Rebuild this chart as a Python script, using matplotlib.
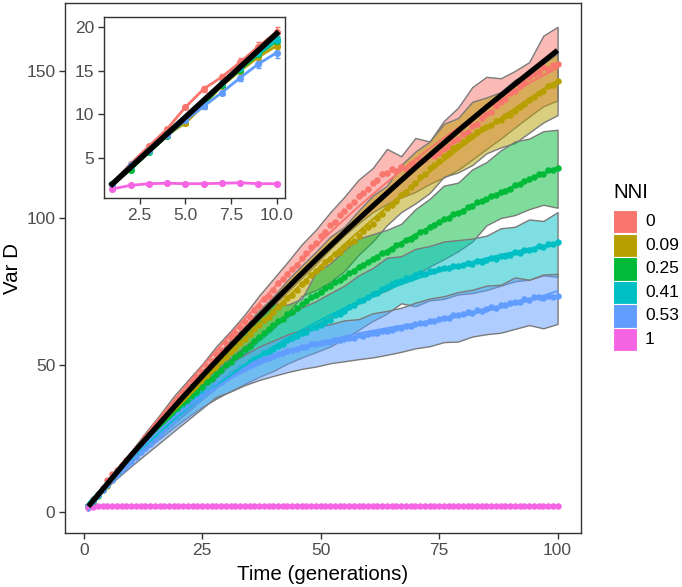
import numpy as np
import matplotlib
matplotlib.use("Agg")
import matplotlib.pyplot as plt
from matplotlib.patches import Rectangle
from matplotlib.colors import to_rgba

plt.rcParams['font.family'] = ['Liberation Sans', 'DejaVu Sans']

# ---------------- data ----------------
gens = list(range(1, 101))
nni_levels = ["0", "0.09", "0.25", "0.41", "0.53", "1"]
colors = ["#F8766D", "#B79F00", "#00BA38", "#00BFC4", "#619CFF", "#F564E3"]

mean_0 = [2.0, 4.3, 6.3, 8.3, 10.8, 12.9, 14.3, 16.0, 17.8, 19.5,
          21.5, 23.3, 25.4, 27.4, 29.5, 31.2, 33.4, 35.0, 37.1, 38.8,
          40.9, 42.4, 44.6, 45.8, 47.5, 49.8, 51.4, 53.6, 55.2, 57.5,
          59.4, 60.8, 63.1, 64.5, 66.5, 68.6, 70.1, 72.4, 73.6, 75.5,
          77.8, 79.2, 80.9, 82.8, 84.0, 86.4, 88.1, 90.3, 91.6, 94.0,
          95.2, 97.5, 98.6, 101.0, 102.5, 104.1, 105.3, 107.6, 108.4, 110.0,
          111.8, 113.0, 114.9, 115.4, 116.5, 116.0, 117.3, 116.8, 118.2, 118.5,
          119.6, 120.1, 121.4, 121.0, 122.0, 123.6, 124.5, 126.1, 127.0, 128.5,
          129.4, 131.2, 132.0, 134.1, 135.5, 136.2, 138.0, 139.4, 140.3, 142.5,
          143.1, 145.0, 146.2, 147.8, 149.0, 149.6, 151.3, 150.8, 152.0, 152.5]

mean_009 = [2.0, 4.1, 5.9, 7.6, 9.0, 11.0, 13.3, 15.0, 16.6, 17.9,
            19.9, 22.0, 23.7, 25.8, 27.5, 29.6, 31.1, 33.2, 34.6, 36.5,
            38.4, 39.9, 41.8, 43.1, 45.0, 46.3, 48.2, 49.4, 51.3, 52.8,
            54.6, 55.8, 57.6, 58.9, 60.5, 62.3, 63.5, 65.2, 66.4, 68.0,
            69.8, 71.0, 72.9, 73.8, 75.5, 77.4, 78.6, 80.7, 81.9, 83.5,
            85.1, 86.0, 87.9, 88.6, 90.0, 91.4, 92.3, 94.0, 95.6, 97.0,
            98.1, 100.0, 101.2, 103.3, 104.5, 105.9, 107.8, 109.0, 110.6, 112.0,
            113.8, 114.9, 116.9, 118.0, 119.5, 121.2, 122.0, 123.8, 124.6, 126.0,
            127.3, 128.0, 129.4, 130.1, 131.0, 131.6, 132.9, 133.4, 134.8, 135.0,
            136.3, 137.9, 138.6, 140.2, 141.0, 142.4, 143.1, 144.8, 145.3, 146.5]

mean_025 = [2.0, 3.6, 5.6, 7.5, 9.3, 11.1, 13.4, 15.1, 16.9, 18.4,
            20.1, 21.5, 23.4, 24.8, 26.5, 28.3, 29.7, 31.6, 32.9, 34.5,
            36.3, 37.6, 39.5, 40.8, 42.5, 44.1, 45.3, 47.0, 48.4, 50.0,
            51.1, 52.7, 53.8, 55.4, 56.5, 58.2, 59.4, 61.0, 62.1, 63.5,
            64.9, 65.8, 67.3, 68.1, 69.5, 70.8, 71.7, 73.2, 73.9, 75.0,
            76.3, 77.0, 78.4, 78.9, 80.0, 81.2, 82.0, 83.3, 84.1, 85.0,
            86.2, 86.8, 88.1, 88.6, 89.5, 90.7, 91.3, 92.6, 93.0, 94.0,
            95.2, 95.7, 97.1, 97.5, 98.5, 99.6, 100.1, 101.4, 101.8, 102.5,
            103.7, 104.1, 105.3, 105.8, 106.5, 107.6, 107.9, 109.0, 109.3, 110.0,
            111.2, 111.6, 112.7, 113.2, 114.0, 114.8, 115.1, 116.2, 116.3, 117.0]

mean_041 = [2.0, 4.0, 5.8, 7.7, 9.4, 11.3, 13.6, 15.3, 17.0, 18.6,
            20.2, 21.6, 23.1, 24.7, 26.0, 27.6, 29.0, 30.7, 31.9, 33.5,
            34.9, 36.0, 37.6, 38.7, 40.0, 41.3, 42.1, 43.6, 44.3, 45.5,
            46.8, 47.7, 49.0, 49.8, 51.0, 52.0, 52.7, 54.1, 54.6, 55.5,
            56.6, 57.2, 58.5, 59.1, 60.0, 60.9, 61.4, 62.6, 62.9, 63.5,
            64.7, 65.4, 66.9, 67.5, 68.5, 69.8, 70.4, 71.9, 72.2, 73.0,
            74.1, 74.6, 76.0, 76.4, 77.5, 78.3, 78.5, 79.6, 79.7, 80.5,
            81.2, 81.1, 82.0, 81.9, 82.5, 83.1, 82.9, 83.8, 83.6, 84.0,
            84.6, 84.4, 85.3, 85.1, 85.7, 86.4, 86.2, 87.2, 87.0, 87.5,
            88.3, 88.2, 89.1, 89.0, 89.5, 90.4, 90.3, 91.2, 91.0, 91.7]

mean_053 = [2.0, 4.2, 5.9, 7.6, 9.3, 10.9, 12.5, 14.2, 15.8, 17.1,
            18.8, 20.3, 21.9, 23.2, 25.0, 26.7, 28.1, 29.9, 31.2, 33.0,
            34.4, 35.6, 37.1, 38.2, 39.5, 40.9, 42.0, 43.5, 44.3, 45.5,
            46.6, 47.3, 48.5, 49.0, 50.0, 50.8, 51.3, 52.2, 52.4, 53.0,
            53.7, 54.0, 54.8, 55.0, 55.5, 56.2, 56.3, 57.1, 57.0, 57.5,
            57.9, 57.8, 58.5, 58.4, 58.7, 59.3, 59.2, 60.1, 60.0, 60.5,
            61.0, 60.8, 61.7, 61.6, 62.0, 62.6, 62.5, 63.4, 63.3, 64.0,
            64.4, 64.2, 65.1, 64.9, 65.5, 66.1, 66.0, 67.0, 66.9, 67.5,
            67.9, 67.8, 68.6, 68.5, 69.0, 69.6, 69.5, 70.4, 70.3, 71.0,
            71.5, 71.4, 72.3, 72.2, 73.0, 73.2, 72.9, 73.6, 73.3, 73.5]

mean_1 = [1.4, 1.8, 2.0, 2.05, 2.0, 2.0, 2.05, 2.1, 2.0, 2.0,
          1.98, 2.02, 2.0, 1.97, 2.03, 2.0, 1.99, 2.02, 2.0, 1.98,
          2.01, 2.0, 1.97, 2.02, 2.0, 2.03, 1.99, 2.0, 1.98, 2.01,
          2.0, 2.02, 1.98, 2.0, 2.01, 1.97, 2.0, 2.03, 1.99, 2.0,
          2.02, 1.98, 2.0, 2.01, 1.99, 2.0, 2.02, 1.98, 2.0, 2.01,
          1.99, 2.0, 2.03, 1.98, 2.0, 2.01, 1.99, 2.02, 2.0, 1.98,
          2.0, 2.01, 1.99, 2.0, 2.02, 1.98, 2.0, 2.01, 1.99, 2.0,
          2.02, 1.99, 2.0, 2.01, 1.98, 2.0, 2.02, 2.0, 1.99, 2.01,
          2.0, 1.98, 2.03, 2.0, 1.99, 2.01, 2.0, 1.98, 2.02, 2.0,
          1.99, 2.01, 2.0, 1.98, 2.02, 2.0, 1.99, 2.01, 2.0, 1.99]

# ribbon bounds, read every 3 generations
ribbon_gens = list(range(1, 101, 3))
lo_0 = [1.8, 7.8, 13.5, 18.4, 23.9, 29.3, 34.8, 39.8, 44.5, 50.1, 55.4, 60.0, 65.2, 70.1, 74.9, 79.6, 84.3,
        89.4, 94.1, 98.2, 102.0, 104.8, 107.0, 108.9, 111.6, 113.8, 116.4, 119.9, 123.5, 127.0, 130.8, 134.5, 138.0, 140.0]
hi_0 = [2.2, 8.8, 15.1, 20.6, 27.0, 33.0, 39.4, 44.9, 50.3, 56.4, 61.6, 67.2, 73.6, 79.3, 85.0, 91.0, 96.0,
        101.9, 107.2, 113.0, 117.0, 123.5, 121.0, 127.2, 126.0, 133.0, 137.5, 144.5, 148.0, 147.5, 150.0, 153.0, 162.0, 165.0]
lo_009 = [1.8, 7.0, 12.5, 16.8, 22.1, 27.6, 32.3, 37.0, 41.8, 45.6, 50.3, 54.0, 58.3, 62.4, 67.5, 73.5, 75.5,
          78.2, 82.0, 87.5, 92.0, 97.6, 102.0, 105.0, 108.5, 114.0, 115.5, 118.0, 122.0, 124.0, 125.5, 129.0, 132.5, 135.0]
hi_009 = [2.2, 8.2, 14.2, 19.1, 25.4, 31.6, 37.0, 42.8, 48.0, 53.0, 58.6, 63.2, 68.6, 73.3, 78.9, 83.8, 88.5,
          93.6, 97.0, 102.5, 107.6, 111.0, 118.0, 122.6, 126.0, 132.0, 134.0, 139.5, 141.0, 142.8, 147.0, 149.0, 152.5, 156.0]
lo_025 = [1.8, 6.9, 12.4, 17.1, 21.6, 26.0, 30.1, 34.2, 38.4, 42.4, 45.8, 49.3, 52.5, 55.8, 58.6, 61.4, 63.8,
          66.2, 68.4, 71.0, 73.5, 75.4, 78.0, 80.6, 83.5, 86.0, 88.7, 92.0, 97.5, 100.0, 101.0, 103.0, 104.5, 103.5]
hi_025 = [2.2, 8.1, 14.4, 19.7, 25.2, 30.6, 35.8, 41.2, 46.7, 51.5, 56.3, 61.5, 66.0, 71.0, 70.5, 72.5, 81.5,
          84.5, 89.0, 93.0, 94.5, 96.0, 98.0, 103.0, 106.5, 111.0, 112.0, 116.5, 119.0, 123.0, 126.0, 127.0, 129.5, 130.0]
lo_041 = [1.8, 7.1, 12.6, 17.2, 21.2, 25.0, 28.8, 32.4, 35.8, 38.6, 41.2, 43.6, 46.0, 48.0, 50.5, 52.6, 54.4,
          56.3, 59.0, 62.0, 65.0, 67.5, 71.0, 70.0, 72.0, 72.5, 74.0, 74.5, 75.5, 77.0, 78.5, 79.0, 80.5, 80.0]
hi_041 = [2.2, 8.3, 14.6, 20.0, 25.0, 30.2, 35.0, 39.6, 44.2, 48.6, 52.5, 56.4, 60.0, 63.0, 66.5, 69.6, 71.7,
          74.4, 77.0, 80.5, 83.0, 86.5, 87.0, 89.5, 90.5, 92.0, 92.5, 93.0, 94.0, 96.5, 97.0, 99.5, 99.0, 102.0]
lo_053 = [1.8, 7.0, 11.5, 15.6, 19.6, 23.5, 27.5, 31.4, 35.3, 39.2, 41.0, 43.2, 44.9, 46.3, 47.6, 48.7, 49.5,
          50.6, 51.3, 52.0, 52.6, 53.5, 54.5, 55.7, 56.4, 57.8, 58.0, 59.7, 60.5, 61.0, 62.3, 63.6, 62.5, 64.0]
hi_053 = [2.2, 8.2, 13.6, 18.6, 23.9, 29.2, 34.1, 38.9, 43.2, 46.2, 51.0, 53.6, 56.3, 58.3, 60.4, 62.0, 63.0,
          63.9, 65.2, 65.6, 67.6, 68.4, 69.5, 71.2, 72.6, 73.4, 74.8, 75.6, 77.0, 77.3, 79.8, 79.0, 80.8, 81.0]

# expected variance (black curve)
theory_gens = [1, 5, 10, 15, 20, 25, 30, 35, 40, 45, 50, 55, 60, 65, 70, 75, 80, 85, 90, 95, 100]
theory_var = [1.95, 9.66, 19.3, 28.3, 37.4, 46.2, 54.8, 63.2, 71.4, 79.5, 87.4, 95.1, 102.6, 109.9,
              117.1, 124.1, 131.0, 137.7, 144.2, 150.6, 157.0]

# standard errors for the first 10 generations (inset)
se_0 = [0.05, 0.1, 0.15, 0.2, 0.25, 0.3, 0.35, 0.45, 0.5, 0.6]
se_009 = [0.05, 0.08, 0.12, 0.16, 0.2, 0.24, 0.28, 0.32, 0.36, 0.4]
se_025 = [0.05, 0.08, 0.12, 0.15, 0.19, 0.23, 0.27, 0.31, 0.35, 0.4]
se_041 = [0.05, 0.08, 0.12, 0.16, 0.2, 0.24, 0.28, 0.32, 0.36, 0.42]
se_053 = [0.05, 0.1, 0.14, 0.18, 0.23, 0.28, 0.33, 0.4, 0.48, 0.6]
se_1 = [0.03, 0.03, 0.03, 0.03, 0.03, 0.03, 0.03, 0.03, 0.03, 0.03]

means = [mean_0, mean_009, mean_025, mean_041, mean_053, mean_1]
los = [lo_0, lo_009, lo_025, lo_041, lo_053]
his = [hi_0, hi_009, hi_025, hi_041, hi_053]
ses = [se_0, se_009, se_025, se_041, se_053, se_1]

# ---------------- figure ----------------
W, H = 682, 587
fig = plt.figure(figsize=(W / 100, H / 100), dpi=100)
fig.patch.set_facecolor("white")


def fx(px):
    return px / W


def fy(py):
    return 1 - py / H


grey20 = "#333333"
grey30 = "#4D4D4D"

ax = fig.add_axes([fx(65), fy(533), fx(581) - fx(65), fy(3) - fy(533)])
x = np.array(gens, dtype=float)

for i in range(5):
    ax.fill_between(ribbon_gens, los[i], his[i], facecolor=to_rgba(colors[i], 0.5),
                    edgecolor="#7A7A7A", linewidth=1.0, zorder=1 + i * 0.01)

for i in range(6):
    y = np.array(means[i])
    ax.scatter(x, y, s=22, color=colors[i], linewidths=0, zorder=3)
    if i < 5:
        coef = np.polyfit(x, y, 3)
        ax.plot(x, np.polyval(coef, x), color=colors[i], lw=1.4, zorder=3.5)
    else:
        ax.plot(x, y, color=colors[i], lw=1.4, zorder=3.5)

ax.plot(theory_gens, theory_var, color="black", lw=3.8, zorder=5, solid_capstyle="butt")

ax.set_xlim(-3.95, 104.95)
ax.set_ylim(-7.1, 173.1)
ax.set_xticks([0, 25, 50, 75, 100])
ax.set_yticks([0, 50, 100, 150])
for s in ax.spines.values():
    s.set_color(grey20)
    s.set_linewidth(1.0)
ax.tick_params(axis="both", direction="out", length=4, width=1.0, color=grey20,
               labelcolor=grey30, labelsize=12.5, pad=3)

fig.text(fx(12), fy(268), "Var D", rotation=90, ha="center", va="center", fontsize=14.8, color="black")
fig.text(fx(323), fy(574), "Time (generations)", ha="center", va="center", fontsize=14.8, color="black")

# ---------------- inset ----------------
ax2 = fig.add_axes([fx(104), fy(198), fx(285) - fx(104), fy(17) - fy(198)])
x10 = x[:10]
for i in range(6):
    y = np.array(means[i][:10])
    ax2.errorbar(x10, y, yerr=ses[i], fmt="none", ecolor=colors[i], elinewidth=1.0,
                 capsize=1.8, capthick=1.0, zorder=2)
    ax2.plot(x10, y, color=colors[i], lw=2.0, zorder=3)
    ax2.scatter(x10, y, s=26, color=colors[i], linewidths=0, zorder=3)
tg = [g for g in theory_gens if g <= 10]
ax2.plot(tg, theory_var[:len(tg)], color="black", lw=4.0, zorder=5)
ax2.set_xlim(0.55, 10.45)
ax2.set_ylim(0.35, 21.2)
ax2.set_xticks([2.5, 5.0, 7.5, 10.0])
ax2.set_xticklabels(["2.5", "5.0", "7.5", "10.0"])
ax2.set_yticks([5, 10, 15, 20])
for s in ax2.spines.values():
    s.set_color(grey20)
    s.set_linewidth(1.0)
ax2.tick_params(axis="both", direction="out", length=4, width=1.0, color=grey20,
                labelcolor=grey30, labelsize=12.5, pad=3)

# ---------------- legend ----------------
fig.text(fx(613), fy(192), "NNI", ha="left", va="center", fontsize=14.8, color="black")
key_h = 23.5
for i, (lab, c) in enumerate(zip(nni_levels, colors)):
    top = 210 + key_h * i
    fig.patches.append(Rectangle((fx(613), fy(top + key_h)), fx(637) - fx(613), key_h / H,
                                 transform=fig.transFigure, facecolor=c, edgecolor="white", linewidth=0.8))
    fig.text(fx(645), fy(top + key_h / 2), lab, ha="left", va="center", fontsize=12.5, color="black")

fig.savefig("out.png", dpi=100)
